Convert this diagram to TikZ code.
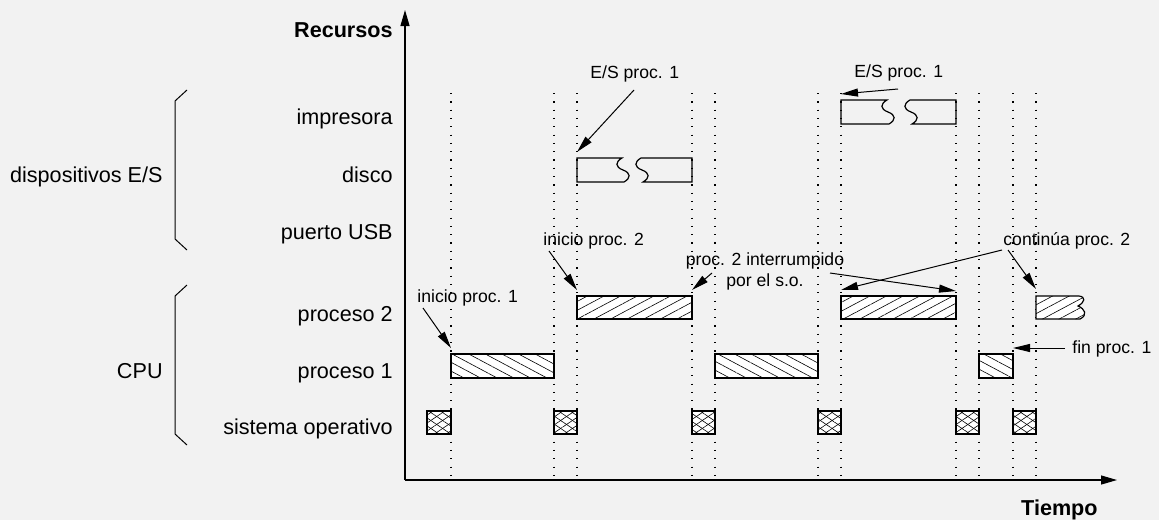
\documentclass[tikz,border=0pt]{standalone}
\usepackage{fontspec}
\setmainfont{Liberation Sans}
\usetikzlibrary{patterns.meta,arrows.meta}
\definecolor{bg}{HTML}{F2F2F2}
\newcommand{\gbox}[6]{\node[#1, minimum width={(#4-#3)*0.5pt}, minimum height={(#6-#5)*0.5pt}] (#2) at ({(#3+#4)/2},{(#5+#6)/2}) {};}
\tikzset{
  lbl/.style={font=\fontsize{10.8}{13}\selectfont, inner sep=0, anchor=base east},
  ttl/.style={font=\fontsize{10.8}{13}\selectfont\bfseries, inner sep=0, anchor=base east},
  ann/.style={font=\fontsize{8.8}{10.5}\selectfont, inner sep=0, anchor=base west},
  ax/.style={line width=0.6pt, -{Triangle[length=8pt,width=4.5pt]}},
  arr/.style={line width=0.5pt, -{Triangle[length=8.5pt,width=4pt]}},
  guide/.style={line width=0.6pt, dash pattern=on 0.6pt off 3.55pt},
  brace/.style={line width=0.5pt},
  iobox/.style={draw, line width=0.6pt},
  boxs/.style={draw, line width=0.6pt, inner sep=0, outer sep=0},
  hatch/.style={preaction={fill=white}, preaction={pattern={Lines[angle=#1,distance=3.9pt,line width=0.3pt]}}},
  p2/.style={boxs, hatch=28},
  p1/.style={boxs, hatch=-28},
  so/.style={boxs, preaction={fill=white},
     preaction={pattern={Lines[angle=34,distance=3.3pt,line width=0.3pt]}},
     preaction={pattern={Lines[angle=-34,distance=3.3pt,line width=0.3pt]}}},
  brkS/.style n args={2}{insert path={ .. controls ({#1-7},{#2+4}) and ({#1-7},{#2+9}) .. ({#1+1},{#2+12}) .. controls ({#1+9},{#2+15}) and ({#1+9},{#2+20}) .. ({#1+2},{#2+24})}},
}
\begin{document}
\begin{tikzpicture}[x=0.5pt,y=-0.5pt]
\fill[bg] (0,0) rectangle (1159,520);
\useasboundingbox (0,0) rectangle (1159,520);

% guides
\foreach \gx in {451,554,577,692,715,818,841,956,979,1013,1036}
  \draw[guide] (\gx,93) -- (\gx,478);

% axes
\coordinate (O) at (405,480);
\coordinate (ytop) at (405,10);
\coordinate (xend) at (1117,480);
\draw[ax] (O) -- (ytop);
\draw[ax] (O) -- (xend);
\node[ttl] (rec) at (393,37) {Recursos};
\node[ttl] (tie) at (1098,515) {Tiempo};

% row labels
\node[lbl] (limp) at (393,124) {impresora};
\node[lbl] (ldis) at (393,182) {disco};
\node[lbl] (lusb) at (393,239) {puerto USB};
\node[lbl] (lp2) at (393,321) {proceso 2};
\node[lbl] (lp1) at (393,378) {proceso 1};
\node[lbl] (lso) at (393,434) {sistema operativo};
\node[lbl] (ldev) at (163,182) {dispositivos E/S};
\node[lbl] (lcpu) at (163,378) {CPU};

% braces
\draw[brace] (187,90) -- (175,101) -- (175,239) -- (187,250);
\draw[brace] (187,285) -- (175,296) -- (175,434) -- (187,445);

% I/O boxes (broken)
\coordinate (dsk) at (577,158);
\draw[iobox] (dsk) -- (622,158) [brkS={622}{158}] -- (577,182) -- cycle;
\draw[iobox] (643,182) -- (692,182) -- (692,158) -- (641,158) [brkS={641}{158}] -- cycle;
\coordinate (imp) at (841,100);
\draw[iobox] (imp) -- (887,100) [brkS={887}{100}] -- (841,124) -- cycle;
\draw[iobox] (912,124) -- (956,124) -- (956,100) -- (910,100) [brkS={910}{100}] -- cycle;

% CPU bars
\gbox{so}{so1}{427}{451}{411}{434}
\gbox{so}{so2}{554}{577}{411}{434}
\gbox{so}{so3}{692}{715}{411}{434}
\gbox{so}{so4}{818}{841}{411}{434}
\gbox{so}{so5}{956}{979}{411}{434}
\gbox{so}{so6}{1013}{1036}{411}{434}
\gbox{p1}{p1a}{451}{554}{354}{378}
\gbox{p1}{p1b}{715}{818}{354}{378}
\gbox{p1}{p1c}{979}{1013}{354}{378}
\gbox{p2}{p2a}{577}{692}{296}{319}
\gbox{p2}{p2b}{841}{956}{296}{319}
\coordinate (p2c) at (1036,296);
\draw[boxs, hatch=28] (p2c) -- (1079,296) .. controls (1086,297) and (1085,302) .. (1078,306) .. controls (1085,309) and (1088,315) .. (1080,319) -- (1036,319) -- cycle;

% annotations
\node[ann] (es1) at (590,78) {E/S proc. 1};
\node[ann] (es2) at (854,77) {E/S proc. 1};
\node[ann] (ip1) at (417,302) {inicio proc. 1};
\node[ann] (ip2) at (543,245) {inicio proc. 2};
\node[ann, anchor=base, align=center] (intr) at (765,286) {proc. 2 interrumpido\\por el s.o.};
\node[ann] (cont) at (1003,245) {continúa proc. 2};
\node[ann] (fin) at (1072,353) {fin proc. 1};

\coordinate (t1) at (634,90);
\coordinate (t2) at (898,89);
\coordinate (t3) at (423,308);
\coordinate (t4) at (549,251);
\coordinate (t5) at (712,273);
\coordinate (t6) at (830,273);
\coordinate (t7) at (1002,250);
\coordinate (t8) at (1008,250);
\coordinate (t9) at (1065,348);

\draw[arr] (t1) -- ([yshift=3pt]dsk);
\draw[arr] (t2) -- ([yshift=3pt]imp);
\draw[arr] (t3) -- ([yshift=3pt]p1a.north west);
\draw[arr] (t4) -- ([yshift=3pt]p2a.north west);
\draw[arr] (t5) -- ([yshift=3pt]p2a.north east);
\draw[arr] (t6) -- ([yshift=2.5pt]p2b.north east);
\draw[arr] (t7) -- ([yshift=3pt]p2b.north west);
\draw[arr] (t8) -- ([yshift=3.5pt]p2c);
\draw[arr] (t9) -- ([yshift=3pt]p1c.north east);
\end{tikzpicture}
\end{document}
